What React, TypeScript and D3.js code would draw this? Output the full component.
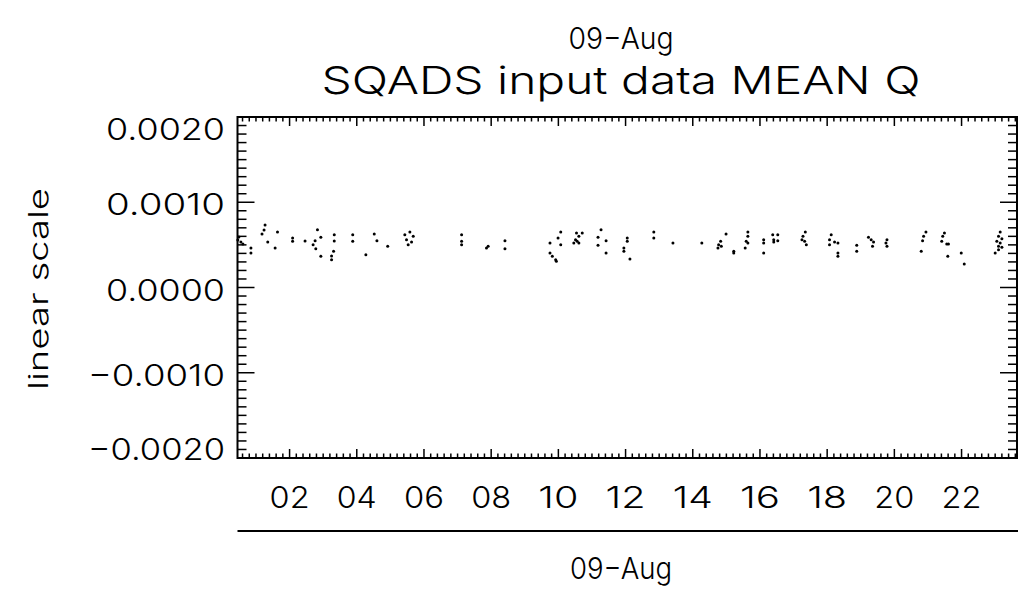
import React from 'react';
import * as d3 from 'd3';

const obsHour = [
  0.46, 0.49, 0.55, 0.61, 0.85, 0.85, 1.18, 1.24, 1.27, 1.35, 1.57, 1.64,
  2.09, 2.09, 2.46, 2.70, 2.76, 2.78, 2.83, 2.93, 2.93, 3.25, 3.25, 3.31,
  3.33, 3.33, 3.88, 3.88, 4.27, 4.52, 4.60, 4.92, 5.43, 5.48, 5.53, 5.58,
  5.63, 5.68, 7.12, 7.12, 7.12, 7.86, 7.91, 8.41, 8.41, 9.75, 9.75, 9.82,
  9.92, 9.94, 9.99, 10.07, 10.07, 10.46, 10.51, 10.54, 10.56, 10.61, 10.61, 10.71,
  11.18, 11.18, 11.27, 11.42, 11.42, 11.95, 11.95, 12.05, 12.05, 12.13, 12.84, 12.84,
  13.41, 14.27, 14.75, 14.77, 14.83, 14.85, 14.99, 15.22, 15.22, 15.56, 15.59, 15.64,
  15.64, 15.64, 16.11, 16.11, 16.11, 16.38, 16.41, 16.41, 16.53, 16.53, 17.25, 17.28,
  17.33, 17.35, 17.38, 18.07, 18.07, 18.12, 18.22, 18.32, 18.32, 18.32, 18.88, 18.88,
  19.23, 19.31, 19.35, 19.38, 19.75, 19.78, 19.78, 20.80, 20.84, 20.87, 20.94, 21.41,
  21.44, 21.49, 21.56, 21.59, 21.61, 21.99, 22.08, 23.00, 23.05, 23.10, 23.10, 23.10,
  23.15, 23.15, 23.20, 23.20,
];
const meanQ = [
  0.000557, 0.000592, 0.000534, 0.000510, 0.000463, 0.000405, 0.000628, 0.000674, 0.000733, 0.000534, 0.000463, 0.000651,
  0.000581, 0.000542, 0.000545, 0.000502, 0.000549, 0.000455, 0.000678, 0.000589, 0.000366, 0.000370, 0.000326, 0.000425,
  0.000619, 0.000545, 0.000619, 0.000542, 0.000385, 0.000628, 0.000549, 0.000483, 0.000619, 0.000561, 0.000502, 0.000651,
  0.000534, 0.000601, 0.000619, 0.000542, 0.000502, 0.000463, 0.000483, 0.000549, 0.000455, 0.000522, 0.000405, 0.000366,
  0.000326, 0.000307, 0.000581, 0.000651, 0.000502, 0.000522, 0.000561, 0.000639, 0.000542, 0.000601, 0.000522, 0.000639,
  0.000589, 0.000495, 0.000678, 0.000549, 0.000405, 0.000463, 0.000425, 0.000581, 0.000542, 0.000334, 0.000651, 0.000581,
  0.000522, 0.000522, 0.000463, 0.000502, 0.000542, 0.000483, 0.000628, 0.000425, 0.000405, 0.000463, 0.000542, 0.000651,
  0.000601, 0.000522, 0.000561, 0.000522, 0.000405, 0.000619, 0.000561, 0.000534, 0.000619, 0.000549, 0.000561, 0.000601,
  0.000542, 0.000651, 0.000502, 0.000561, 0.000502, 0.000619, 0.000534, 0.000522, 0.000405, 0.000366, 0.000495, 0.000425,
  0.000589, 0.000561, 0.000483, 0.000534, 0.000522, 0.000561, 0.000483, 0.000425, 0.000549, 0.000601, 0.000651, 0.000542,
  0.000601, 0.000639, 0.000510, 0.000366, 0.000510, 0.000405, 0.000276, 0.000405, 0.000542, 0.000601, 0.000483, 0.000443,
  0.000651, 0.000522, 0.000572, 0.000472,
];

const yTickValues = [-0.002, -0.001, 0, 0.001, 0.002];
const xTickHours = [2, 4, 6, 8, 10, 12, 14, 16, 18, 20, 22];
const dayLabel = '09\u2212Aug';
const titleText = 'SQADS input data MEAN Q';
const yAxisTitle = 'linear scale';

const FONT = 'Inter, "DejaVu Sans", sans-serif';

const App: React.FC = () => {
  const left = 237.5, right = 1017, top = 117, bottom = 458;

  const x = d3.scaleLinear().domain([0.45, 23.65]).range([left, right]);
  const y = d3.scaleLinear().domain([-0.002, 0.002]).range([bottom, top]);
  const fmt = d3.format('.4f');

  // minor ticks: 12 min on time axis, 0.0001 on value axis
  const xMinor = d3.range(0, 121).map(i => i * 0.2)
    .filter(h => h > 0.45 && h < 23.65 && Math.abs(h / 2 - Math.round(h / 2)) > 1e-6);
  const yMinor = d3.range(-19, 20).filter(i => i % 10 !== 0).map(i => i * 0.0001);

  const xMaj = 9, xMin = 4.5, yMaj = 17, yMin = 9;
  const tickStyle = { stroke: '#000', strokeWidth: 1.5 };

  return (
    <svg width={1018} height={590} style={{ position: 'absolute', left: 0, top: 0, background: '#fff' }}
      fontFamily={FONT} fontWeight={300}>
      <rect x={0} y={0} width={1018} height={590} fill="#fff" />

      <text x={621} y={49} textAnchor="middle" fontSize={30} textLength={105} lengthAdjust="spacingAndGlyphs">{dayLabel}</text>
      <text x={621} y={94} textAnchor="middle" fontSize={38} textLength={599} lengthAdjust="spacingAndGlyphs">{titleText}</text>

      {/* x ticks, bottom and top */}
      {xTickHours.map(h => (
        <g key={'xm' + h}>
          <line x1={x(h)} x2={x(h)} y1={bottom} y2={bottom - xMaj} {...tickStyle} />
          <line x1={x(h)} x2={x(h)} y1={top} y2={top + xMaj} {...tickStyle} />
          <text x={x(h)} y={508} textAnchor="middle" fontSize={30} textLength={40} lengthAdjust="spacingAndGlyphs">
            {d3.format('02d')(h)}
          </text>
        </g>
      ))}
      {xMinor.map(h => (
        <g key={'xn' + h.toFixed(1)}>
          <line x1={x(h)} x2={x(h)} y1={bottom} y2={bottom - xMin} {...tickStyle} />
          <line x1={x(h)} x2={x(h)} y1={top} y2={top + xMin} {...tickStyle} />
        </g>
      ))}

      {/* y ticks, left and right */}
      {yTickValues.map((v, i) => {
        const off = i === yTickValues.length - 1 ? 23 : i === 0 ? 2 : 13;
        const label = fmt(v);
        return (
          <g key={'ym' + i}>
            <line x1={left} x2={left + yMaj} y1={y(v)} y2={y(v)} {...tickStyle} />
            <line x1={right} x2={right - yMaj} y1={y(v)} y2={y(v)} {...tickStyle} />
            <text x={225} y={y(v) + off} textAnchor="end" fontSize={30}
              textLength={v < 0 ? 137 : 119} lengthAdjust="spacingAndGlyphs">{label}</text>
          </g>
        );
      })}
      {yMinor.map((v, i) => (
        <g key={'yn' + i}>
          <line x1={left} x2={left + yMin} y1={y(v)} y2={y(v)} {...tickStyle} />
          <line x1={right} x2={right - yMin} y1={y(v)} y2={y(v)} {...tickStyle} />
        </g>
      ))}

      <rect x={left} y={top} width={right - left} height={bottom - top} fill="none" stroke="#000" strokeWidth={2} />

      {obsHour.map((h, i) => (
        <circle key={'p' + i} cx={x(h)} cy={y(meanQ[i])} r={1.5} fill="#000" />
      ))}

      <text transform={`translate(48,289) rotate(-90)`} textAnchor="middle" fontSize={27}
        textLength={202} lengthAdjust="spacingAndGlyphs">{yAxisTitle}</text>

      <line x1={left} x2={1018} y1={531} y2={531} stroke="#000" strokeWidth={2} />
      <text x={621} y={579} textAnchor="middle" fontSize={30} textLength={102} lengthAdjust="spacingAndGlyphs">{dayLabel}</text>
    </svg>
  );
};

export default App;
